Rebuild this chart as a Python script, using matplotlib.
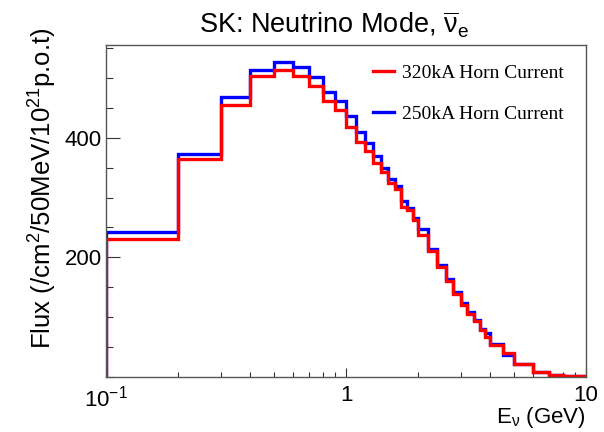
import numpy as np
import matplotlib
matplotlib.use("Agg")
import matplotlib.pyplot as plt
from matplotlib.ticker import FixedLocator, FixedFormatter, MultipleLocator

plt.rcParams["font.family"] = ["Liberation Sans", "DejaVu Sans"]
plt.rcParams["mathtext.fontset"] = "custom"
plt.rcParams["mathtext.rm"] = "Liberation Sans"
plt.rcParams["mathtext.it"] = "Liberation Sans"

# bin edges in GeV
edges = [0.1, 0.2, 0.3, 0.4, 0.5, 0.6, 0.7, 0.8, 0.9, 1.0,
         1.1, 1.2, 1.3, 1.4, 1.5, 1.6, 1.7, 1.8, 1.9, 2.0,
         2.2, 2.4, 2.6, 2.8, 3.0, 3.2, 3.4, 3.6, 3.8, 4.0,
         4.5, 5.0, 6.0, 7.0, 8.0, 9.0, 10.0]

# flux per bin, 250 kA horn current
flux_250 = [242, 373, 468, 513, 527, 519, 501, 477, 461,
            436, 409, 392, 369, 350, 331, 320, 295, 282, 266,
            248, 214, 187, 163, 142, 124, 108, 95, 81, 73,
            56, 37, 21, 9, 4, 2.5, 1.5]

# flux per bin, 320 kA horn current
flux_320 = [230, 364, 455, 504, 514, 504, 487, 461, 446,
            418, 393, 378, 358, 343, 324, 315, 285, 279, 262,
            238, 210, 184, 160, 138, 121, 106, 93, 78, 67,
            54, 40, 21, 9, 4, 2.5, 1.5]

labels = ["320kA Horn Current", "250kA Horn Current"]


def hist_outline(edges, vals, ymin=0):
    x = np.repeat(edges, 2)
    y = np.concatenate([[ymin], np.repeat(vals, 2), [ymin]])
    return x, y


fig = plt.figure(figsize=(6.04, 4.32), dpi=100)
ax = fig.add_axes([106 / 604, 1 - 377 / 432, 480 / 604, 332 / 432])

xb, yb = hist_outline(edges, flux_250)
xr, yr = hist_outline(edges, flux_320)
lb, = ax.plot(xb, yb, color="#0000ff", lw=2.4, solid_joinstyle="miter")
lr, = ax.plot(xr, yr, color="#ff0000", lw=2.4, solid_joinstyle="miter")

ax.set_xscale("log")
ax.set_xlim(0.1, 10)
ax.set_ylim(0, 555)

ax.xaxis.set_major_locator(FixedLocator([0.1, 1, 10]))
ax.xaxis.set_major_formatter(FixedFormatter(["$10^{-1}$", "1", "10"]))
ax.xaxis.set_minor_locator(FixedLocator([0.2, 0.3, 0.4, 0.5, 0.6, 0.7, 0.8, 0.9,
                                         2, 3, 4, 5, 6, 7, 8, 9]))
ax.xaxis.set_minor_formatter(FixedFormatter([""] * 16))
ax.yaxis.set_major_locator(FixedLocator([200, 400]))
ax.yaxis.set_minor_locator(MultipleLocator(50))

ax.tick_params(axis="both", which="both", direction="in", top=False, right=False,
               labelsize=16, width=0.8, color="#333333")
ax.tick_params(axis="x", which="major", length=6.5, pad=6)
ax.tick_params(axis="x", which="minor", length=3.5)
ax.tick_params(axis="y", which="major", length=10, pad=3)
ax.tick_params(axis="y", which="minor", length=5)
for sp in ax.spines.values():
    sp.set_color("#555555")
    sp.set_linewidth(1.0)

ax.set_title(r"SK: Neutrino Mode, $\overline{\mathrm{\nu}}_{\mathrm{e}}$",
             fontsize=19.5, pad=8, x=0.475)
ax.set_xlabel(r"E$_{\nu}$ (GeV)", fontsize=16, ha="right")
ax.xaxis.set_label_coords(1.0, -0.085, transform=ax.transAxes)
ax.xaxis.label.set_va("top")
fig.text(43 / 604, 1 - 188 / 432, r"Flux (/cm$^{2}$/50MeV/10$^{21}$p.o.t)",
         rotation=90, ha="center", va="center", fontsize=18.5)

leg = ax.legend([lr, lb], labels, loc="upper right", frameon=False,
                prop={"family": "Liberation Serif", "size": 14},
                handlelength=1.1, handletextpad=0.4, labelspacing=1.2,
                bbox_to_anchor=(0.99, 0.995))

fig.savefig("out.png", dpi=100)
